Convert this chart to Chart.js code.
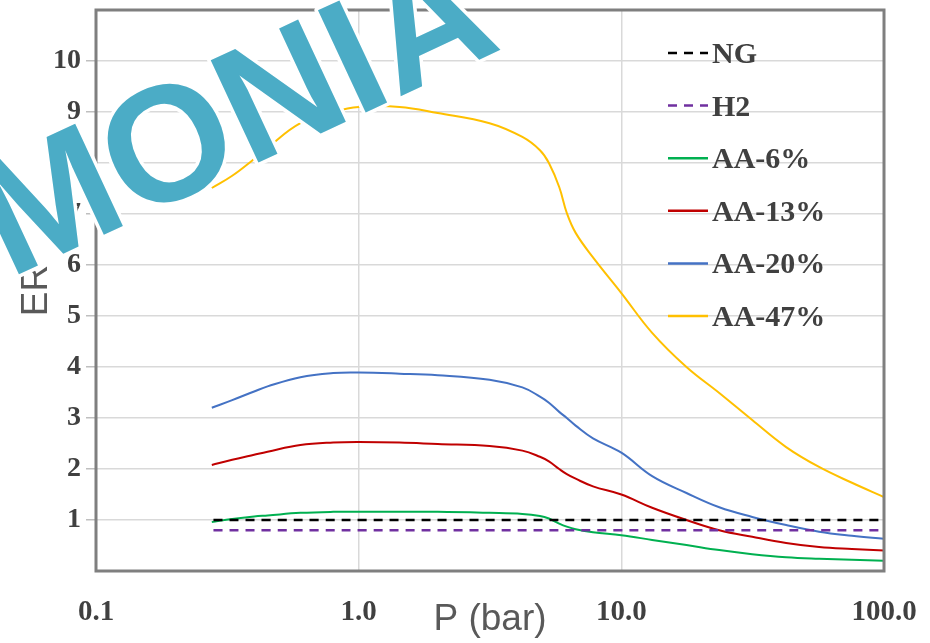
<!DOCTYPE html>
<html>
<head>
<meta charset="utf-8">
<script src="https://cdn.jsdelivr.net/npm/chart.js@4.4.0/dist/chart.umd.min.js"></script>
<style>
  html, body { margin: 0; padding: 0; background: #fff; }
  #wrap { position: relative; width: 930px; height: 643px; }
</style>
</head>
<body>
<div id="wrap"><canvas id="c" width="930" height="643"></canvas></div>
<script>
// ── DATA ──────────────────────────────────────────────────────────────────────
const PRESSURE = [0.276, 0.33, 0.4, 0.45, 0.6, 0.8, 1.0, 1.43, 2.0, 3.15, 4.2, 4.9, 5.3, 5.8, 6.2, 6.7, 7.8, 10, 13.1, 17.7, 23.6, 31.5, 42.4, 56.6, 75.5, 100];
const AA6  = [0.96, 1.02, 1.07, 1.09, 1.14, 1.16, 1.16, 1.16, 1.16, 1.14, 1.12, 1.08, 1.03, 0.93, 0.87, 0.82, 0.76, 0.70, 0.61, 0.51, 0.41, 0.33, 0.27, 0.24, 0.22, 0.20];
const AA13 = [2.08, 2.18, 2.28, 2.34, 2.47, 2.52, 2.53, 2.52, 2.49, 2.45, 2.36, 2.24, 2.15, 2.00, 1.90, 1.81, 1.66, 1.50, 1.24, 1.00, 0.80, 0.67, 0.55, 0.47, 0.43, 0.40];
const AA20 = [3.20, 3.35, 3.52, 3.62, 3.80, 3.88, 3.89, 3.87, 3.84, 3.75, 3.60, 3.42, 3.30, 3.12, 3.00, 2.85, 2.60, 2.32, 1.86, 1.53, 1.25, 1.06, 0.90, 0.77, 0.69, 0.63];
const AA47 = [7.51, 7.75, 8.08, 8.30, 8.78, 9.00, 9.10, 9.10, 8.98, 8.78, 8.51, 8.25, 8.00, 7.53, 7.02, 6.63, 6.15, 5.45, 4.67, 4.00, 3.49, 2.96, 2.43, 2.04, 1.73, 1.45];
const REF_P = [0.28, 100];
const NG    = [1.0, 1.0];
const H2    = [0.8, 0.8];
const X_TICKS = [0.1, 1, 10, 100];
const Y_TICKS = [1, 2, 3, 4, 5, 6, 7, 8, 9, 10];

const pts = (xs, ys) => xs.map((x, i) => ({ x, y: ys[i] }));

// ── STYLE ─────────────────────────────────────────────────────────────────────
const TEXT_DARK = '#404040';
const GRID = '#d9d9d9';

// ── PLUGINS ───────────────────────────────────────────────────────────────────
const frame = {
  id: 'frame',
  afterDraw(chart) {
    const { ctx, chartArea: a } = chart;
    ctx.save();
    ctx.strokeStyle = '#7f7f7f';
    ctx.lineWidth = 3;
    ctx.strokeRect(a.left, a.top, a.right - a.left, a.bottom - a.top);

    // axis titles
    ctx.fillStyle = '#595959';
    ctx.font = '37px "Liberation Sans"';
    ctx.textAlign = 'center';
    ctx.textBaseline = 'middle';
    ctx.fillText('P (bar)', (a.left + a.right) / 2, 620);
    ctx.save();
    ctx.translate(37, (a.top + a.bottom) / 2);
    ctx.rotate(-Math.PI / 2);
    ctx.fillText('ER', 0, 0);
    ctx.restore();

    // legend inside the plot, top right
    ctx.font = 'bold 30px "Liberation Serif"';
    ctx.textAlign = 'left';
    ctx.textBaseline = 'alphabetic';
    chart.data.datasets.forEach((ds, i) => {
      const y = 53 + i * 52.6;
      ctx.beginPath();
      ctx.strokeStyle = ds.borderColor;
      ctx.lineWidth = 2.5;
      ctx.setLineDash(ds.borderDash || []);
      ctx.moveTo(668, y);
      ctx.lineTo(708, y);
      ctx.stroke();
      ctx.setLineDash([]);
      ctx.fillStyle = TEXT_DARK;
      ctx.fillText(ds.label, 712, y + 10);
    });

    // watermark text over everything
    ctx.save();
    ctx.translate(9, 279);
    ctx.rotate(-25 * Math.PI / 180);
    ctx.font = 'bold 164px "Liberation Sans"';
    ctx.textAlign = 'left';
    ctx.textBaseline = 'alphabetic';
    ctx.lineJoin = 'round';
    ctx.lineWidth = 7;
    ctx.strokeStyle = '#ffffff';
    ctx.strokeText('MONIA', 0, 0);
    ctx.fillStyle = '#4bacc6';
    ctx.fillText('MONIA', 0, 0);
    ctx.restore();
    ctx.restore();
  }
};

// ── CHART ─────────────────────────────────────────────────────────────────────
const line = (label, xs, ys, color, dash) => ({
  label,
  data: pts(xs, ys),
  borderColor: color,
  borderWidth: dash ? 2.5 : 2,
  borderDash: dash || undefined,
  pointRadius: 0,
  fill: false,
  tension: 0.4
});

new Chart(document.getElementById('c'), {
  type: 'line',
  data: {
    datasets: [
      line('NG',     REF_P,    NG,   '#000000', [9, 7]),
      line('H2',     REF_P,    H2,   '#7030a0', [9, 7]),
      line('AA-6%',  PRESSURE, AA6,  '#00b050'),
      line('AA-13%', PRESSURE, AA13, '#c00000'),
      line('AA-20%', PRESSURE, AA20, '#4472c4'),
      line('AA-47%', PRESSURE, AA47, '#ffc000')
    ]
  },
  options: {
    responsive: false,
    animation: false,
    devicePixelRatio: 1,
    layout: { padding: { top: 10, right: 46, left: 0, bottom: 0 } },
    plugins: { legend: { display: false }, tooltip: { enabled: false } },
    scales: {
      x: {
        type: 'logarithmic',
        min: 0.1, max: 100,
        afterBuildTicks: s => { s.ticks = X_TICKS.map(v => ({ value: v })); },
        afterFit: s => { s.height = 72; s.paddingLeft = 0; s.paddingRight = 0; },
        grid: { color: GRID, lineWidth: 1.5, drawTicks: false },
        border: { display: false },
        ticks: {
          autoSkip: false, maxRotation: 0, padding: 24,
          color: TEXT_DARK, font: { family: 'Liberation Serif', weight: 'bold', size: 29 },
          callback: v => Number(v).toFixed(1)
        }
      },
      y: {
        min: 0, max: 11,
        afterBuildTicks: s => { s.ticks = Y_TICKS.map(v => ({ value: v })); },
        afterFit: s => { s.width = 96; s.paddingTop = 0; s.paddingBottom = 0; },
        grid: { color: GRID, lineWidth: 1.5, tickLength: 10, tickColor: '#bfbfbf' },
        border: { display: false },
        ticks: { padding: 5, color: TEXT_DARK, font: { family: 'Liberation Serif', weight: 'bold', size: 28 } }
      }
    }
  },
  plugins: [frame]
});
</script>
</body>
</html>
